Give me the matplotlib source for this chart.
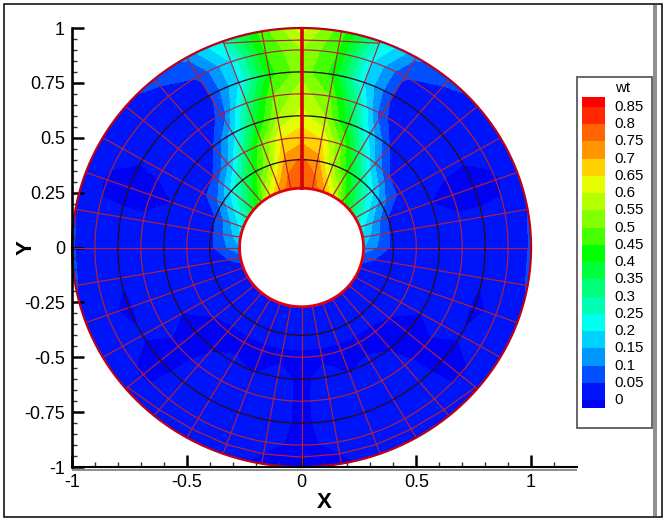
import matplotlib
matplotlib.use('Agg')
import matplotlib.pyplot as plt
import numpy as np
from matplotlib.patches import Rectangle

plt.rcParams['font.family'] = ['Liberation Sans', 'DejaVu Sans']

W, H = 667, 521

# ring radii of the mesh
radii = [0.27, 0.4, 0.5, 0.6, 0.7, 0.8, 0.9, 1.0]
# angle from the top, right half only, left half is the mirror image
angles = [0, 10, 20, 30, 40, 50, 60, 70, 80, 90, 100, 110, 120, 130, 140, 150, 160, 170, 180]

wt_r027 = [.79, .78, .72, .62, .48, .38, .29, .23, .19, .15, .07, .035, .02, .02, .02, .02, .02, .02, .02]
wt_r040 = [.76, .72, .55, .43, .31, .21, .12, .05, .035, .035, .02, .02, .02, .02, .02, .02, .02, .02, .02]
wt_r050 = [.68, .65, .50, .31, .14, .05, .03, .02, .02, .02, .02, .02, .02, -.002, -.01, -.01, -.01, -.01, -.01]
wt_r060 = [.62, .55, .38, .18, .045, .02, .01, .0, .02, .02, .02, .02, .0, -.01, -.002, .005, -.002, .015, -.01]
wt_r070 = [.58, .50, .30, .06, .02, .02, .005, -.01, .005, .015, .02, .02, .015, -.01, .005, .02, .01, .02, -.01]
wt_r080 = [.53, .43, .20, .045, .02, .02, .002, -.01, .005, .015, .002, -.005, .002, -.01, .01, .02, .02, .02, -.01]
wt_r090 = [.55, .45, .20, .052, .035, .02, .01, -.005, .005, .015, .005, .005, .01, -.005, .01, .015, .002, .01, -.01]
wt_r100 = [.62, .47, .26, .11, .06, .04, .02, .02, .05, .055, .055, .03, .02, .02, .02, .02, .02, -.01, -.01]

levels = [-.05, 0, .05, .1, .15, .2, .25, .3, .35, .4, .45, .5, .55, .6, .65, .7, .75, .8, .85, .95]
band_colors = ['#0000f2', '#0014fa', '#0050ff', '#0096ff', '#00d2ff', '#00fff0', '#00ffb4', '#00ff78',
               '#00ff3c', '#00ff00', '#46ff00', '#82ff00', '#b4ff00', '#e6ff00', '#ffd200', '#ff9600',
               '#ff6400', '#ff2800', '#ff0000']
label_levels = [0, .05, .1, .15, .2, .25, .3, .35, .4, .45, .5, .55, .6, .65, .7, .75, .8, .85]
label_text = ['0', '0.05', '0.1', '0.15', '0.2', '0.25', '0.3', '0.35', '0.4', '0.45', '0.5', '0.55',
              '0.6', '0.65', '0.7', '0.75', '0.8', '0.85']


def px_box(x0, y0, x1, y1):
    # pixel box (y downwards) to figure fractions
    return [x0 / W, 1 - y1 / H, (x1 - x0) / W, (y1 - y0) / H]


def fig_rect(x0, y0, x1, y1, **kw):
    b = px_box(x0, y0, x1, y1)
    fig.add_artist(Rectangle((b[0], b[1]), b[2], b[3], transform=fig.transFigure, **kw))


half = np.array([wt_r027, wt_r040, wt_r050, wt_r060, wt_r070, wt_r080, wt_r090, wt_r100])
z = np.hstack([half, half[:, -2::-1]])
th = np.radians(np.arange(z.shape[1]) * 10.0)
r = np.array(radii)
X = np.outer(r, np.sin(th))
Y = np.outer(r, np.cos(th))

fig = plt.figure(figsize=(W / 100, H / 100), dpi=100)
ax = fig.add_axes(px_box(72, 28, 577, 467))
ax.contourf(X, Y, z, levels=levels, colors=band_colors, corner_mask=False)
ax.set_xlim(-1, 1.2)
ax.set_ylim(-1, 1)

# mesh lines
grid_red = '#b4203c'
grid_black = '#2c0a1e'
t = np.linspace(0, 2 * np.pi, 361)
for a in th:
    if a == 0:
        continue
    ax.plot(r[[0, -1]] * np.sin(a), r[[0, -1]] * np.cos(a), color=grid_red, lw=0.85)
for rr in [.5, .7, .9]:
    ax.plot(rr * np.sin(t), rr * np.cos(t), color=grid_red, lw=0.85)
for rr in [.4, .6, .8]:
    ax.plot(rr * np.sin(t), rr * np.cos(t), color=grid_black, lw=0.95)

# extra partial arcs close to the rim
top_a = np.radians([-20, -10, 0, 10, 20])
top_r = np.array([.99, .955, .945, .955, .99])
ax.plot(top_r * np.sin(top_a), top_r * np.cos(top_a), color=grid_red, lw=0.85)
low_a = np.radians([130, 140, 150, 160, 170, 180, 190, 200, 210, 220, 230])
low_r = np.array([.99, .965, .955, .955, .955, .955, .955, .955, .955, .965, .99])
ax.plot(low_r * np.sin(low_a), low_r * np.cos(low_a), color=grid_red, lw=0.85)

ax.plot(np.sin(t), np.cos(t), color='#b8001c', lw=1.6, clip_on=False)
ax.plot(.27 * np.sin(t), .27 * np.cos(t), color='#e00010', lw=2.0)
ax.plot([0, 0], [.27, 1], color='#d4000c', lw=2.6)

# axes
for s in ['top', 'right']:
    ax.spines[s].set_visible(False)
ax.spines['left'].set_linewidth(1.9)
ax.spines['bottom'].set_linewidth(1.5)
ax.set_xticks([-1, -.5, 0, .5, 1])
ax.set_xticklabels(['-1', '-0.5', '0', '0.5', '1'])
ax.set_yticks([-1, -.75, -.5, -.25, 0, .25, .5, .75, 1])
ax.set_yticklabels(['-1', '-0.75', '-0.5', '-0.25', '0', '0.25', '0.5', '0.75', '1'])
ax.set_xticks(np.arange(-1, 1.15, .1), minor=True)
ax.set_yticks(np.arange(-1, 1.01, .05), minor=True)
ax.tick_params(which='major', direction='in', length=8.5, width=1.8, labelsize=13, pad=5)
ax.tick_params(which='minor', direction='in', length=3.6, width=1.0, color='#303030')
ax.set_xlabel('X', fontsize=16, fontweight='bold', labelpad=1)
ax.set_ylabel('Y', fontsize=16, fontweight='bold', labelpad=-9)

# page frame and grey strips
fig_rect(3.5, 4, 662, 516.5, fill=False, ec='black', lw=1.1)
fig_rect(653, 5, 657, 516, fc='#909090', ec='none')
fig_rect(72, 468.5, 577, 471, fc='#909090', ec='none')

# legend
fig_rect(577, 77, 652, 428, fc='white', ec='#666666', lw=1.4)
cax = fig.add_axes(px_box(582, 97, 605, 408), zorder=5)
cax.pcolormesh([0, 1], levels, np.arange(len(band_colors)).reshape(-1, 1),
               cmap=matplotlib.colors.ListedColormap(band_colors))
cax.set_xlim(0, 1)
cax.set_ylim(-.023, .879)
cax.axis('off')
for v, s in zip(label_levels, label_text):
    cax.text(1.42, v, s, fontsize=10.8, va='center', ha='left', clip_on=False)
cax.text(1.42, .905, 'wt', fontsize=10.8, va='center', ha='left', clip_on=False)

fig.savefig('out.png', dpi=100)
